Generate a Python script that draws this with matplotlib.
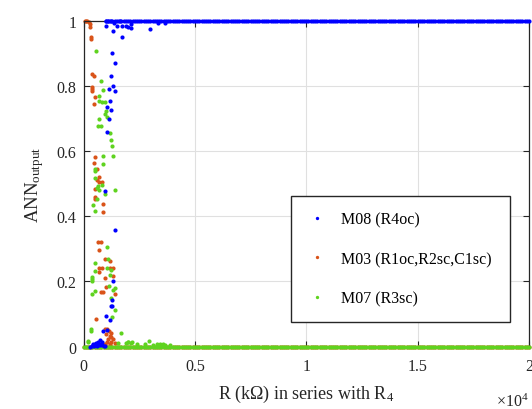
#!/usr/bin/env python3
import matplotlib
matplotlib.use("Agg")

import matplotlib.pyplot as plt
from matplotlib.ticker import FuncFormatter

plt.rcParams["font.family"] = ["Liberation Serif", "DejaVu Serif"]
plt.rcParams["mathtext.fontset"] = "custom"
plt.rcParams["mathtext.rm"] = "Liberation Serif"
plt.rcParams["mathtext.it"] = "Liberation Serif:italic"

OUT_FILE = "out.png"

# R sweep (ohm) - the dense rows at 0 and 1
R_SWEEP = [
    0, 100, 200, 300, 400, 500, 600, 700, 800, 900, 1000, 1100, 1200, 1300, 1400, 1500, 1600, 1700, 1800, 1900,
    2000, 2100, 2200, 2300, 2400, 2500, 2600, 2700, 2800, 2900, 3000, 3100, 3200, 3300, 3400, 3500, 3600, 3700, 3800, 3900,
    4000, 4100, 4200, 4300, 4400, 4500, 4600, 4700, 4800, 4900, 5000, 5100, 5200, 5300, 5400, 5500, 5600, 5700, 5800, 5900,
    6000, 6100, 6200, 6300, 6400, 6500, 6600, 6700, 6800, 6900, 7000, 7100, 7200, 7300, 7400, 7500, 7600, 7700, 7800, 7900,
    8000, 8100, 8200, 8300, 8400, 8500, 8600, 8700, 8800, 8900, 9000, 9100, 9200, 9300, 9400, 9500, 9600, 9700, 9800, 9900,
    10000, 10100, 10200, 10300, 10400, 10500, 10600, 10700, 10800, 10900, 11000, 11100, 11200, 11300, 11400, 11500, 11600, 11700, 11800, 11900,
    12000, 12100, 12200, 12300, 12400, 12500, 12600, 12700, 12800, 12900, 13000, 13100, 13200, 13300, 13400, 13500, 13600, 13700, 13800, 13900,
    14000, 14100, 14200, 14300, 14400, 14500, 14600, 14700, 14800, 14900, 15000, 15100, 15200, 15300, 15400, 15500, 15600, 15700, 15800, 15900,
    16000, 16100, 16200, 16300, 16400, 16500, 16600, 16700, 16800, 16900, 17000, 17100, 17200, 17300, 17400, 17500, 17600, 17700, 17800, 17900,
    18000, 18100, 18200, 18300, 18400, 18500, 18600, 18700, 18800, 18900, 19000, 19100, 19200, 19300, 19400, 19500, 19600, 19700, 19800, 19900,
    20000,
]

# M08 (R4oc) scattered points
m08_x = [1026, 1101, 1251, 1371, 1026, 1520, 1626, 1746, 1925, 2000, 2121, 2150, 1311, 2974, 3348, 3648,
         1716, 1295, 1430, 1250, 1326, 1132, 1416, 1176, 1071, 1221, 1131, 1071, 981, 1401, 1311, 1281,
         1221, 1026, 1191, 1266, 1071, 876,
         300, 360, 420, 480, 540, 600, 660, 720, 780, 840, 900, 960, 427, 577, 728, 832, 650, 500]
m08_y = [0.999, 1.0, 0.999, 0.993, 0.986, 0.986, 1.0, 0.984, 0.984, 0.981, 0.991, 0.978, 0.970, 0.975, 0.993, 0.993,
         0.951, 0.901, 0.870, 0.831, 0.799, 0.792, 0.784, 0.753, 0.735, 0.727, 0.699, 0.658, 0.477, 0.358, 0.200, 0.143,
         0.124, 0.095, 0.081, 0.125, 0.051, 0.047,
         0.0, 0.002, 0.004, 0.003, 0.005, 0.002, 0.006, 0.004, 0.008, 0.005, 0.003, 0.001, 0.007, 0.011, 0.020, 0.015, 0.013, 0.009]

# M03 (R1oc,R2sc,C1sc) scattered points
m03_x = [50, 110, 170, 230, 280, 280, 323, 323, 382, 472, 382, 382, 382, 502, 472, 502, 457, 592, 712, 622,
         682, 832, 502, 502, 532, 891, 891, 652, 801, 712, 951, 1206, 682, 832, 1206, 1311, 682, 1311, 951, 1026,
         772, 876, 1401, 577, 981, 1221, 1041, 1161,
         1026, 1176, 1251, 1101, 1326, 1071, 1251, 1401, 1176, 951]
m03_y = [1.0, 1.0, 0.999, 0.998, 0.991, 0.981, 0.952, 0.945, 0.837, 0.830, 0.798, 0.791, 0.786, 0.767, 0.745, 0.581, 0.565, 0.546, 0.520, 0.512,
         0.504, 0.504, 0.483, 0.460, 0.452, 0.438, 0.412, 0.321, 0.321, 0.298, 0.268, 0.262, 0.242, 0.242, 0.242, 0.242, 0.228, 0.216, 0.211, 0.182,
         0.167, 0.167, 0.160, 0.084, 0.054, 0.041, 0.054, 0.049,
         0.038, 0.033, 0.028, 0.023, 0.023, 0.015, 0.013, 0.011, 0.008, 0.008]

# M07 (R3sc) scattered points
m07_x = [577, 773, 876, 682, 682, 832, 952, 1026, 951, 1071, 712, 652, 801, 1206, 1221, 1296, 891, 1311, 891, 532,
         502, 502, 652, 832, 622, 712, 981, 1401, 592, 442, 502, 1071, 1101, 502, 1071, 1221, 502, 1191, 382, 382,
         382, 1131, 1401, 1326, 502, 397, 1251, 1431, 1296, 323, 323, 1700, 216, 202, 2000, 2150, 1925, 1550, 2418, 2750,
         3123, 3424, 3649, 3874, 2958, 3290, 3590, 2166, 2013]
m07_y = [0.907, 0.815, 0.787, 0.770, 0.755, 0.750, 0.750, 0.723, 0.714, 0.704, 0.700, 0.676, 0.676, 0.657, 0.634, 0.615, 0.585, 0.584, 0.561, 0.546,
         0.538, 0.518, 0.494, 0.496, 0.487, 0.481, 0.469, 0.481, 0.453, 0.434, 0.417, 0.307, 0.268, 0.256, 0.242, 0.236, 0.233, 0.219, 0.213, 0.206,
         0.202, 0.187, 0.181, 0.174, 0.171, 0.161, 0.149, 0.112, 0.090, 0.055, 0.049, 0.041, 0.018, 0.013, 0.015, 0.012, 0.0095, 0.0095, 0.0064, 0.0064,
         0.005, 0.0064, 0.006, 0.005, 0.018, 0.008, 0.008, 0.013, 0.013]

LABELS = ["M08 (R4oc)", "M03 (R1oc,R2sc,C1sc)", "M07 (R3sc)"]
COLORS = ["#0000ff", "#d95319", "#5fd31f"]

# sweep rows: M08 sits at 1 from about 1 kOhm on, M03/M07 at 0
blue_x = R_SWEEP[10:] + m08_x
blue_y = [1.0] * len(R_SWEEP[10:]) + m08_y
orange_x = R_SWEEP + m03_x
orange_y = [0.0] * len(R_SWEEP) + m03_y
green_x = R_SWEEP + m07_x
green_y = [0.0] * len(R_SWEEP) + m07_y

fig = plt.figure(figsize=(5.32, 4.10), dpi=100)
ax = fig.add_axes([0.157, 0.1524, 0.8374, 0.7939])

ms = 3.0
h1, = ax.plot(blue_x, blue_y, "o", ms=ms, mew=0, color=COLORS[0], zorder=4, clip_on=False)
h2, = ax.plot(orange_x, orange_y, "o", ms=ms, mew=0, color=COLORS[1], zorder=2, clip_on=False)
h3, = ax.plot(green_x, green_y, "o", ms=ms, mew=0, color=COLORS[2], zorder=3, clip_on=False)

ax.set_xlim(0, 20000)
ax.set_ylim(0, 1)
ax.set_xticks([0, 5000, 10000, 15000, 20000])
ax.set_yticks([0, 0.2, 0.4, 0.6, 0.8, 1.0])
ax.xaxis.set_major_formatter(FuncFormatter(lambda v, _: f"{v / 1e4:g}"))
ax.yaxis.set_major_formatter(FuncFormatter(lambda v, _: f"{v:g}"))

ax.grid(True, color="#e0e0e0", lw=0.8)
ax.set_axisbelow(True)
ax.tick_params(direction="in", length=4, width=0.8, top=True, right=True,
               labelsize=11.5, colors="#262626")
ax.tick_params(axis="x", pad=8)
ax.tick_params(axis="y", pad=5)
for sp in ax.spines.values():
    sp.set_color("#262626")
    sp.set_linewidth(0.9)

ax.set_xlabel(r"R (k$\Omega$) in series with R$_4$", fontsize=13, color="#262626", labelpad=7)
ax.set_ylabel(r"ANN$_{\mathrm{output}}$", fontsize=13.5, color="#262626", labelpad=8)
ax.text(1.0, -0.167, r"$\times10^4$", transform=ax.transAxes, ha="right", va="center",
        fontsize=11.5, color="#262626")

ax.legend([h1, h2, h3], LABELS, loc="lower left",
          bbox_to_anchor=(0.466, 0.075, 0.491, 0.387), mode="expand",
          borderaxespad=0, borderpad=1.0, labelspacing=1.45, handlelength=1.2,
          handletextpad=0.9, fancybox=False, edgecolor="#262626", framealpha=1,
          fontsize=11.5, markerscale=0.8)

fig.savefig(OUT_FILE, dpi=100)
plt.close(fig)
print(f"Saved: {OUT_FILE}")
